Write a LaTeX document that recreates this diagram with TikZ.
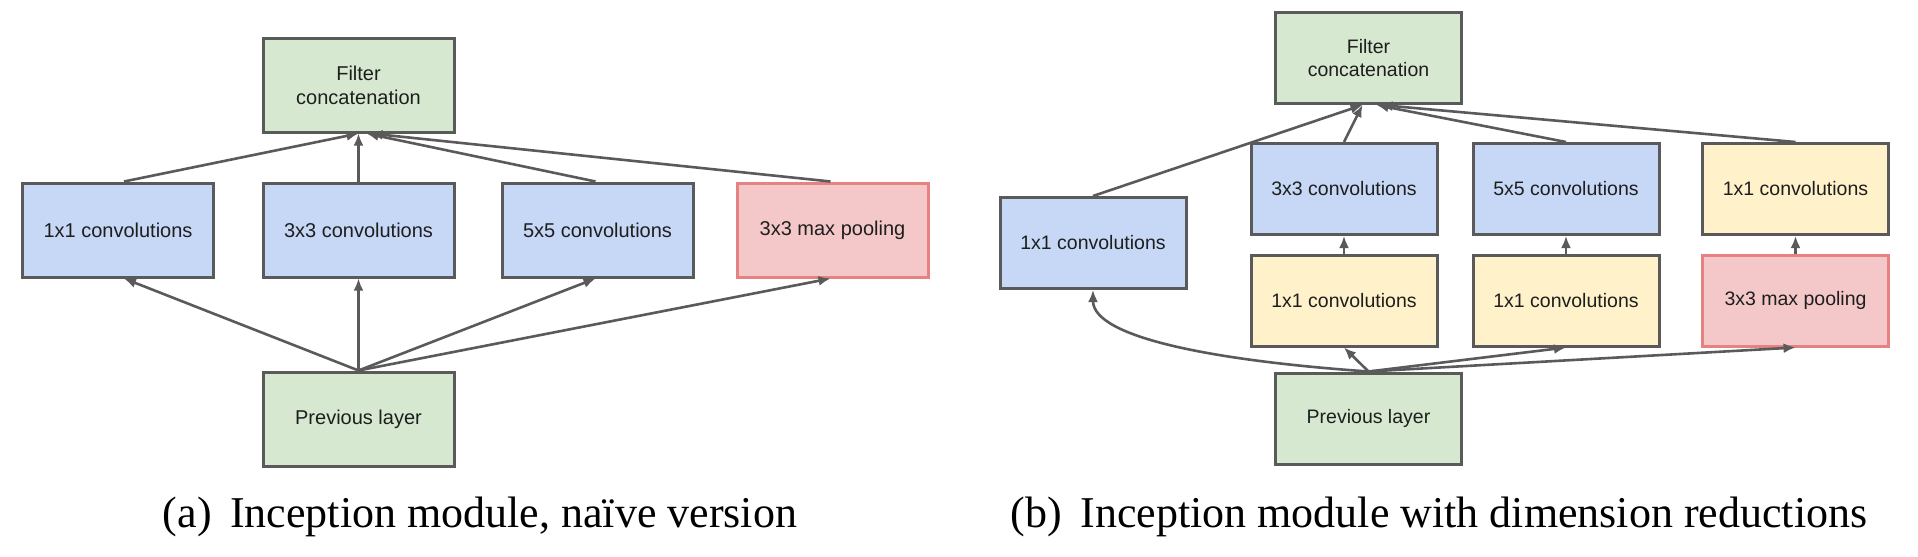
\documentclass[tikz,border=0pt]{standalone}
\usepackage{fontspec}
\setmainfont{Liberation Serif}
\newfontfamily\boxfont{Liberation Sans}
\usetikzlibrary{arrows.meta}

\definecolor{edgegray}{HTML}{5A5A5A}
\definecolor{linegray}{HTML}{5A5A5A}
\definecolor{concatgreen}{HTML}{D7E8D0}
\definecolor{convblue}{HTML}{C6D8F6}
\definecolor{reduceyellow}{HTML}{FFF1C9}
\definecolor{poolpink}{HTML}{F4C8C8}
\definecolor{poolred}{HTML}{E58282}
\definecolor{labelgray}{HTML}{1E1E1E}

\tikzset{
	unitbox/.style={draw=edgegray, line width=1.5pt, minimum width=95.5pt, minimum height=47pt, inner sep=0pt, align=center, text=labelgray, font=\boxfont\fontsize{10}{12}\selectfont},
	slim/.style={minimum width=93pt, minimum height=45.5pt, font=\boxfont\fontsize{9.75}{11.7}\selectfont},
	concatbox/.style={unitbox, fill=concatgreen},
	convbox/.style={unitbox, fill=convblue},
	reducebox/.style={unitbox, fill=reduceyellow},
	poolbox/.style={unitbox, fill=poolpink, draw=poolred},
	flowline/.style={draw=linegray, line width=1.3pt, -{Latex[length=6pt,width=5pt]}},
	subcap/.style={font=\fontsize{22}{26}\selectfont, anchor=base, inner sep=0pt}
}

\begin{document}
\begin{tikzpicture}[x=0.5pt, y=-0.5pt]
\useasboundingbox (0,0) rectangle (1918,557);

% (a) naive version
\node[concatbox] (fa) at (358.5,85) {Filter\\concatenation};
\node[concatbox] (pa) at (358.5,419) {Previous layer};
\node[convbox] (a1) at (118,230) {1x1 convolutions};
\node[convbox] (a3) at (358.5,230) {3x3 convolutions};
\node[convbox] (a5) at (597.5,230) {5x5 convolutions};
\node[poolbox] (ap) at (832.5,230) {3x3 max pooling};

\foreach \b/\o/\s in {a1/3pt/0pt, a3/0pt/0pt, a5/-1pt/4pt, ap/-1pt/6pt} {
	\draw[flowline] (pa.north) -- ([xshift=\o]\b.south);
	\draw[flowline] ([xshift=\o]\b.north) -- ([xshift=\s]fa.south);
}

\node[subcap] (capa) at (480,527) {(a)\hspace{0.42em}Inception module, naïve version};

% (b) with dimension reductions
\node[concatbox, slim] (fb) at (1368.5,58) {Filter\\concatenation};
\node[concatbox, slim] (pb) at (1368.5,418.5) {Previous layer};
\node[convbox, slim] (b1) at (1093,243) {1x1 convolutions};
\node[convbox, slim] (b3) at (1344,189) {3x3 convolutions};
\node[convbox, slim] (b5) at (1566,189) {5x5 convolutions};
\node[reducebox, slim] (bq) at (1795.5,189) {1x1 convolutions};
\node[reducebox, slim] (r3) at (1344,300.5) {1x1 convolutions};
\node[reducebox, slim] (r5) at (1566,300.5) {1x1 convolutions};
\node[poolbox, slim] (bp) at (1795.5,300.5) {3x3 max pooling};

\draw[flowline] (pb.north) to[out=176, in=-90, out distance=76pt, in distance=24pt] (b1.south);
\foreach \b in {r3,r5,bp}
	\draw[flowline] (pb.north) -- (\b.south);
\foreach \a/\b in {r3/b3, r5/b5, bp/bq}
	\draw[flowline] (\a.north) -- (\b.south);
\foreach \b/\s in {b1/-3pt, b3/-3pt, b5/4pt, bq/6pt}
	\draw[flowline] (\b.north) -- ([xshift=\s]fb.south);

\node[subcap] (capb) at (1439,527) {(b)\hspace{0.42em}Inception module with dimension reductions};
\end{tikzpicture}
\end{document}
